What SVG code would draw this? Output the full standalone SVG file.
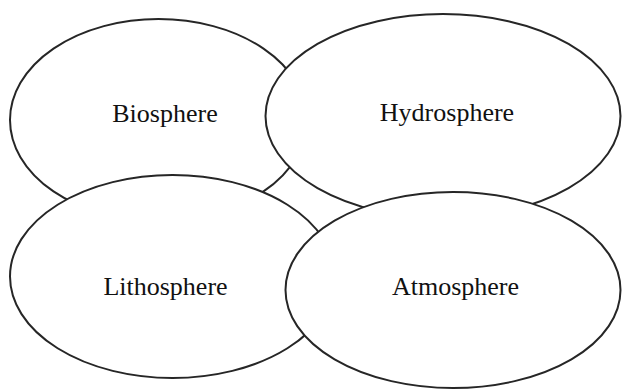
<svg xmlns="http://www.w3.org/2000/svg" width="622" height="390" viewBox="0 0 622 390">
<style>
.sphere{fill:#ffffff;stroke:#262626;stroke-width:2}
.label{font-family:"Liberation Serif","Times New Roman",serif;font-size:26px;fill:#111111;text-anchor:middle}
</style>
<rect width="622" height="390" fill="#ffffff"/>
<g id="biosphere">
<ellipse class="sphere" cx="158.5" cy="120" rx="148.5" ry="101"/>
<text class="label" x="165" y="122">Biosphere</text>
</g>
<g id="lithosphere">
<ellipse class="sphere" cx="172.5" cy="276.5" rx="162.5" ry="101.5"/>
<text class="label" x="165.5" y="295">Lithosphere</text>
</g>
<g id="hydrosphere">
<ellipse class="sphere" cx="443" cy="116" rx="177.5" ry="102"/>
<text class="label" x="447" y="121">Hydrosphere</text>
</g>
<g id="atmosphere">
<ellipse class="sphere" cx="453" cy="290" rx="167.5" ry="98"/>
<text class="label" x="455.5" y="295">Atmosphere</text>
</g>
<g id="connectors"/>
</svg>
